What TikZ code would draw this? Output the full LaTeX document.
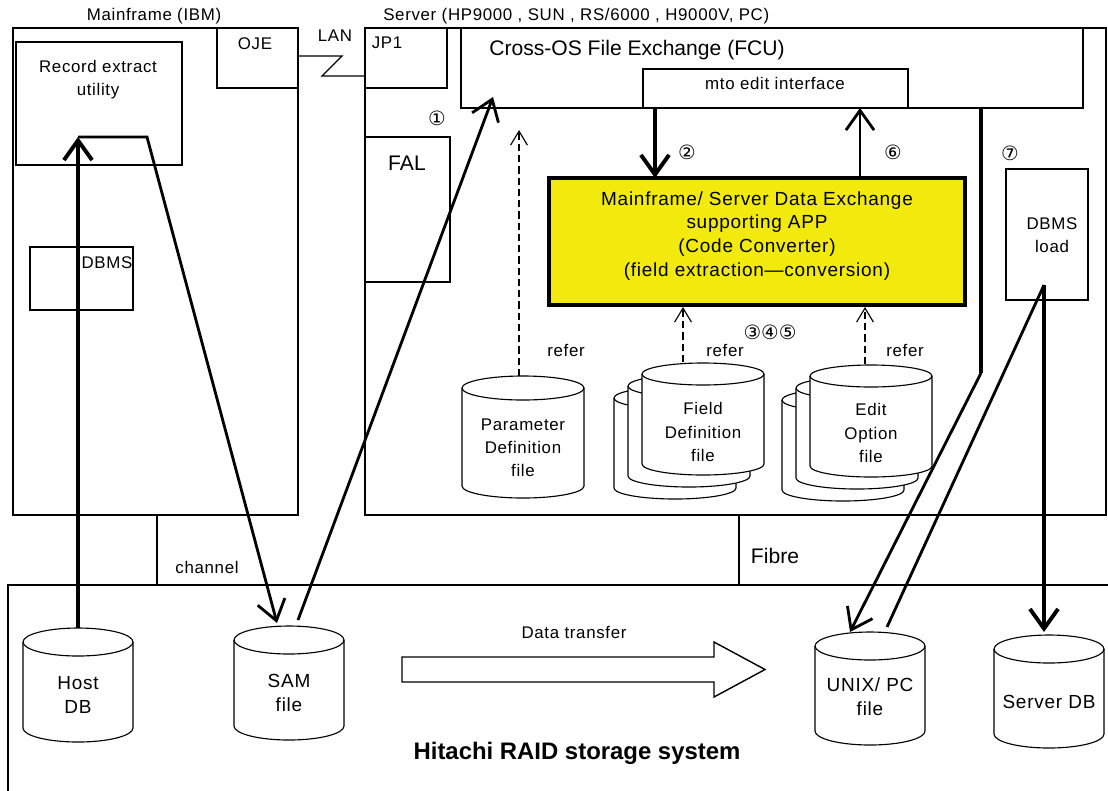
\documentclass[tikz,border=0pt]{standalone}
\usepackage{fontspec}
\setmainfont{Liberation Sans}
\newfontfamily\pixfont[LetterSpace=4]{Liberation Sans}
\newfontfamily\circfont{DejaVu Sans}
\usetikzlibrary{arrows.meta}

% drum: name, centre x, top y, bottom y, x radius, y radius
\newcommand{\drum}[6]{%
  \filldraw[fill=white, line width=0.8pt] (#2-#5,#3) -- (#2-#5,#4)
    arc[start angle=180, end angle=0, x radius=#5, y radius=#6]
    -- (#2+#5,#3) arc[start angle=0, end angle=-180, x radius=#5, y radius=#6] -- cycle;
  \draw[line width=0.8pt] (#2-#5,#3) arc[start angle=180, end angle=0, x radius=#5, y radius=#6];
  \coordinate (#1) at (#2,#3-#6);
}

\definecolor{appyellow}{RGB}{242,234,12}

\begin{document}
\begin{tikzpicture}[x=0.025cm, y=-0.025cm,
    box/.style={line width=0.9pt},
    pix/.style={font=\pixfont\fontsize{12}{16.5}\selectfont, align=center, inner sep=0pt},
    big/.style={font=\pixfont\fontsize{13.5}{17}\selectfont, align=center, inner sep=0pt},
    ari/.style={font=\fontsize{15}{18}\selectfont, inner sep=0pt},
    num/.style={font=\circfont\fontsize{14}{16}\selectfont, inner sep=0pt},
    heavy/.style={line width=2.8pt},
    flow/.style={line width=2pt},
    tip/.style={-{Straight Barb[length=14pt,width=20pt]}},
    refer/.style={line width=0.8pt, dash pattern=on 5pt off 3pt, -{Straight Barb[length=10pt,width=12pt]}}]
    \useasboundingbox (0,0) rectangle (1108,790);

    % Mainframe side
    \draw[box] (13,28) rectangle (298,515);
    \draw[box] (217,28) rectangle (298,88);
    \draw[box] (16,42) rectangle (182,165);
    \draw[box] (30,247) rectangle (133,310);
    \node[pix] (mftitle) at (154,16) {Mainframe (IBM)};
    \node[pix] (oje) at (255,44) {OJE};
    \node[pix] (rextract) at (98,80) {Record extract\\utility};
    \node[pix] (mfdbms) at (107,263) {DBMS};

    % LAN link
    \draw[box] (298,56) -- (342,56) -- (322,76) -- (365,76);
    \node[pix] (lan) at (335,36) {LAN};

    % Server side
    \draw[box] (365,28) rectangle (1106,515);
    \draw[box] (365,28) rectangle (447,88);
    \draw[box] (461,28) rectangle (1083,108);
    \draw[box] (643,69) rectangle (908,108);
    \draw[box] (365,137) rectangle (450,282);
    \draw[box] (1006,169) rectangle (1088,300);
    \node[pix, anchor=west] (svtitle) at (383,16) {Server (HP9000 , SUN , RS/6000 , H9000V, PC)};
    \node[pix] (jp1) at (387,43) {JP1};
    \node[ari] (fcutxt) at (637,50) {Cross-OS File Exchange (FCU)};
    \node[pix] (mto) at (775,83) {mto edit interface};
    \node[ari] (fal) at (407,163) {FAL};
    \node[pix] (dbload) at (1052,235) {DBMS\\load};

    % conversion APP
    \draw[line width=3pt, fill=appyellow] (549,178) rectangle (965,305);
    \node[big] (app) at (757,236) {Mainframe/ Server Data Exchange\\supporting APP\\(Code Converter)\\(field extraction—conversion)};

    % step numbers
    \node[num] (n1) at (437,118) {①};
    \node[num] (n2) at (687,152) {②};
    \node[num] (n6) at (893,152) {⑥};
    \node[num] (n7) at (1010,153) {⑦};
    \node[num] (n345) at (770,332) {③④⑤};

    % definition files
    \drum{pd}{523}{388}{486}{61}{12}
    \drum{fd3}{675}{398}{488}{61}{11}
    \drum{fd2}{689}{386}{476}{61}{11}
    \drum{fd}{703}{374}{464}{61}{11}
    \drum{eo3}{843}{400}{490}{61}{11}
    \drum{eo2}{857}{388}{478}{61}{11}
    \drum{eo}{871}{376}{466}{61}{11}
    \node[pix] (pdtxt) at (523,448) {Parameter\\Definition\\file};
    \node[pix] (fdtxt) at (703,432) {Field\\Definition\\file};
    \node[pix] (eotxt) at (871,433) {Edit\\Option\\file};
    \node[pix] (refer1) at (566,350) {refer};
    \node[pix] (refer2) at (725,350) {refer};
    \node[pix] (refer3) at (905,350) {refer};

    % channel / fibre
    \draw[box] (157,515) -- (157,585);
    \draw[box] (739,515) -- (739,585);
    \node[pix] (chan) at (207,567) {channel};
    \node[ari] (fibre) at (775,556) {Fibre};

    % RAID storage
    \draw[box] (1110,585) -- (8,585) -- (8,792);
    \drum{host}{78}{642}{728}{55}{14}
    \drum{sam}{289}{640}{726}{55}{14}
    \drum{unix}{870}{646}{731}{55}{14}
    \drum{sdb}{1049}{649}{734}{55}{14}
    \node[big] (hosttxt) at (78,695) {Host\\DB};
    \node[big] (samtxt) at (289,693) {SAM\\file};
    \node[big] (unixtxt) at (870,697) {UNIX/ PC\\file};
    \node[big] (sdbtxt) at (1049,702) {Server DB};
    \draw[line width=1pt] (402,657) -- (714,657) -- (714,642) -- (765,669.5)
        -- (714,697) -- (714,682) -- (402,682) -- cycle;
    \node[pix] (xfer) at (574,632) {Data transfer};
    \node[font=\bfseries\fontsize{17}{20}\selectfont, inner sep=0pt] (raid) at (577,753) {Hitachi RAID storage system};

    % connector ends
    \coordinate (rxin) at (78,137);
    \coordinate (rxout) at (147,137);
    \coordinate (samin) at (277,623);
    \coordinate (samout) at (298,620);
    \coordinate (fcuin) at (493,97);
    \coordinate (fcu2) at (655,108);
    \coordinate (app2) at (655,178);
    \coordinate (app6) at (860,178);
    \coordinate (mto6) at (860,108);
    \coordinate (fcuR) at (981,108);
    \coordinate (bend) at (981,373);
    \coordinate (unixin) at (850,632);
    \coordinate (unixout) at (887,627);
    \coordinate (dbl) at (1044,285);
    \coordinate (sdbin) at (1044,632);
    \coordinate (pdsrc) at (519,376);
    \coordinate (pdref) at (519,130);
    \coordinate (fdsrc) at (683,362);
    \coordinate (fdref) at (683,307);
    \coordinate (eosrc) at (865,364);
    \coordinate (eoref) at (865,307);

    % data flow
    \draw[heavy, tip] (host) -- (rxin);
    \draw[flow, tip] (rxin) -- (rxout) -- (samin);
    \draw[flow, tip] (samout) -- (fcuin);
    \draw[heavy, tip] (fcu2) -- (app2);
    \draw[flow, tip] (app6) -- (mto6);
    \draw[heavy] (fcuR) -- (bend);
    \draw[flow, tip] (bend) -- (unixin);
    \draw[flow] (unixout) -- (dbl);
    \draw[heavy, tip] (dbl) -- (sdbin);

    % refer links
    \draw[refer] (pdsrc) -- (pdref);
    \draw[refer] (fdsrc) -- (fdref);
    \draw[refer] (eosrc) -- (eoref);
\end{tikzpicture}
\end{document}
